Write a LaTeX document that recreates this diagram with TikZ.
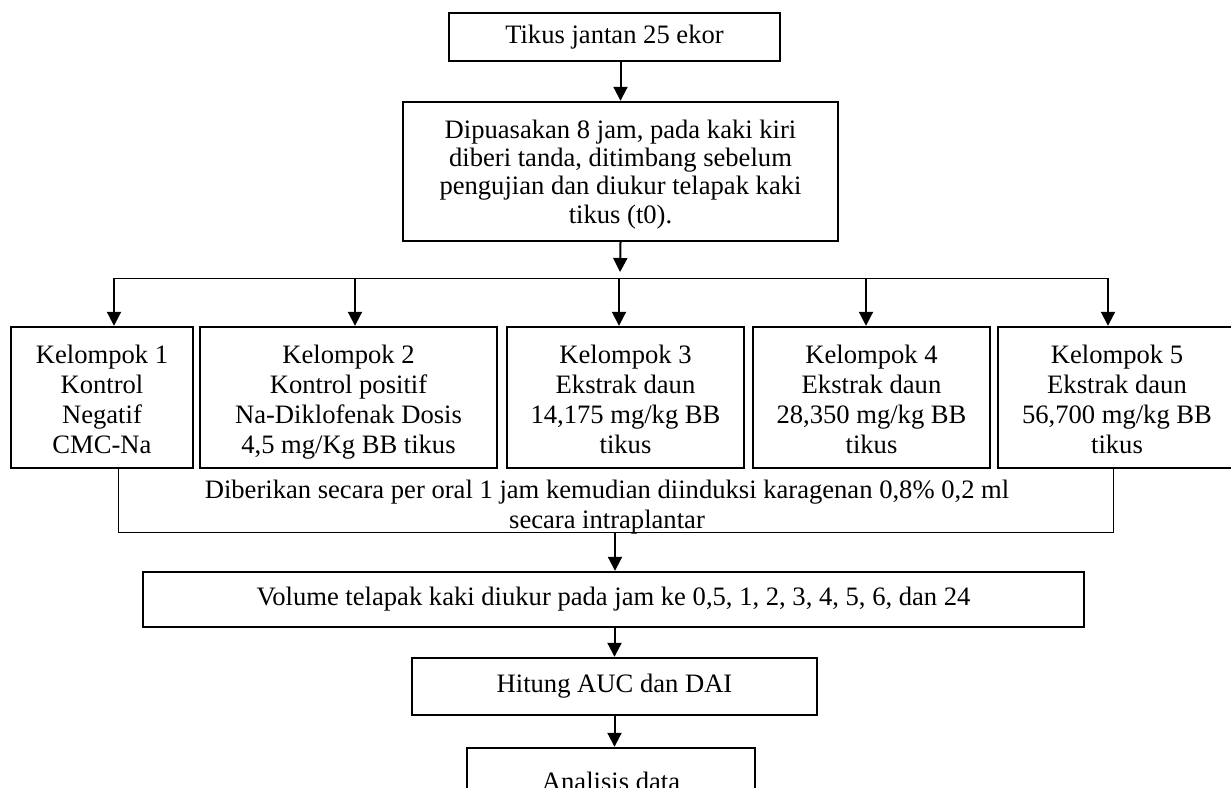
\documentclass[tikz,border=0pt]{standalone}
\usepackage{fontspec}
\setmainfont{Liberation Serif}
\usetikzlibrary{arrows.meta}
\newcommand{\kstrut}[1]{\rule{0pt}{#1}}
\begin{document}
\begin{tikzpicture}[x=0.5pt,y=-0.5pt,
  font=\fontsize{13.3}{15}\selectfont,
  box/.style={draw,line width=1.2pt,align=center,inner sep=0pt},
  arr/.style={line width=1pt,-{Triangle[length=7pt,width=7pt]}},
  thinline/.style={line width=0.5pt}]
\useasboundingbox (0,0) rectangle (1231,787);
\clip (0,0) rectangle (1231,787);
\node[box,minimum width=165.5pt,minimum height=24pt] (tikus) at (614.5,37) {Tikus jantan 25 ekor};
\node[box,minimum width=217.5pt,minimum height=69.5pt,font=\fontsize{13.3}{14.2}\selectfont] (puasa) at (620.5,171.5)
  {\kstrut{12pt}Dipuasakan 8 jam, pada kaki kiri\\diberi tanda, ditimbang sebelum\\pengujian dan diukur telapak kaki\\tikus (t0).};
\node[box,minimum width=91pt,minimum height=70.5pt] (k1) at (102,397.5) {\kstrut{15pt}Kelompok 1\\Kontrol\\Negatif\\CMC-Na\strut};
\node[box,minimum width=148.5pt,minimum height=70.5pt] (k2) at (348.5,397.5) {\kstrut{15pt}Kelompok 2\\Kontrol positif\\Na-Diklofenak Dosis\\4,5 mg/Kg BB tikus\strut};
\node[box,minimum width=118.5pt,minimum height=70.5pt] (k3) at (625.5,397.5) {\kstrut{15pt}Kelompok 3\\Ekstrak daun\\14,175 mg/kg BB\\tikus\strut};
\node[box,minimum width=118.5pt,minimum height=70.5pt] (k4) at (871.5,397.5) {\kstrut{15pt}Kelompok 4\\Ekstrak daun\\28,350 mg/kg BB\\tikus\strut};
\node[box,minimum width=119pt,minimum height=70.5pt] (k5) at (1117,397.5) {\kstrut{15pt}Kelompok 5\\Ekstrak daun\\56,700 mg/kg BB\\tikus\strut};
\node[align=center,inner sep=0pt] (beri) at (607,507)
  {Diberikan secara per oral 1 jam kemudian diinduksi karagenan 0,8\% 0,2 ml\\secara intraplantar};
\node[box,minimum width=470.5pt,minimum height=27.5pt] (volume) at (613.5,599.5) {Volume telapak kaki diukur pada jam ke 0,5, 1, 2, 3, 4, 5, 6, dan 24};
\node[box,minimum width=202.5pt,minimum height=28.5pt] (hitung) at (614.5,686.5) {Hitung AUC dan DAI};
\node[box,minimum width=144pt,minimum height=33pt] (analisis) at (611,781) {Analisis data};
\coordinate (hub) at (620,278);
\coordinate (b1) at (114,278);
\coordinate (b2) at (355,278);
\coordinate (b3) at (619,278);
\coordinate (b4) at (866,278);
\coordinate (b5) at (1108,278);
\coordinate (g1) at (118,532);
\coordinate (g3) at (615,532);
\coordinate (g5) at (1113,532);
\draw[arr] (tikus.south -| puasa.north) -- (puasa.north);
\draw[arr,shorten >=3pt] (puasa.south) -- (hub);
\draw[thinline] (b1) -- (b5);
\foreach \i in {1,...,5}
  \draw[arr] (b\i) -- (b\i |- k\i.north);
\draw[thinline] (k1.south -| g1) -- (g1) -- (g5) -- (k5.south -| g5);
\draw[arr] (g3) -- (g3 |- volume.north);
\draw[arr] (volume.south -| hitung.north) -- (hitung.north);
\draw[arr] (hitung.south) -- (hitung.south |- analisis.north);
\end{tikzpicture}
\end{document}
